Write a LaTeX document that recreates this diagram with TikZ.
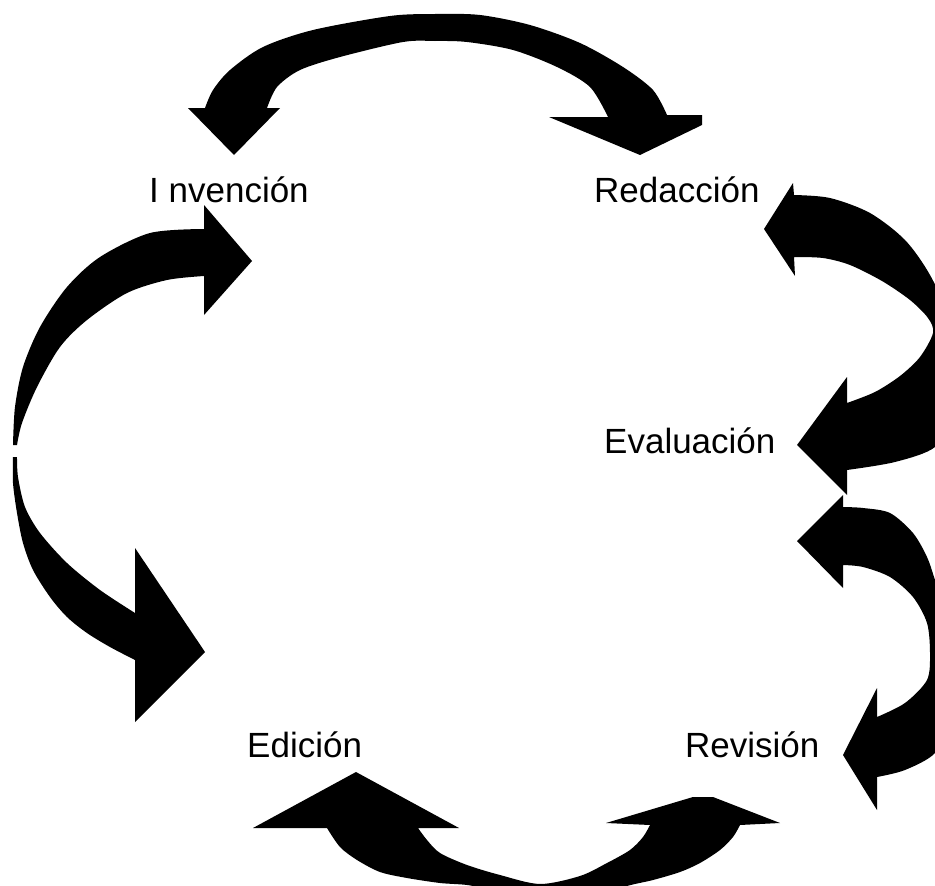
\documentclass[tikz,border=0pt]{standalone}
\usepackage{fontspec}
\setmainfont{Liberation Sans}
\usepackage{tikz}
\newcommand{\picwidth}{935}
\newcommand{\picheight}{886}
\tikzset{
    stage/.style={anchor=base west, inner sep=0pt, font=\fontsize{35}{42}\selectfont},
    bigarrow/.style={fill=black, draw=none}
}
\begin{document}
\begin{tikzpicture}[x=1pt, y=-1pt]
        \useasboundingbox (0,0) rectangle (\picwidth,\picheight);
        \clip (0,0) rectangle (\picwidth,\picheight);

        \path
            (149,202) node[stage] (inv) {I nvención}
            (594,202) node[stage] (red) {Redacción}
            (604,453) node[stage] (eva) {Evaluación}
            (685,757) node[stage] (rev) {Revisión}
            (247,757) node[stage] (edi) {Edición};

        % invencion <-> redaccion
        \fill[bigarrow] (188,108) -- (205,108)
            -- plot[smooth] coordinates {(205,108) (213,90) (230,70) (263,47) (313,30) (390,16) (435,14) (480,15) (530,25) (580,43) (623,67) (653,90) (667,115)}
            -- (702,115) -- (702,125) -- (640,155) -- (549,117) -- (608,117)
            -- plot[smooth] coordinates {(608,117) (590,87) (557,67) (513,50) (467,42) (435,41) (403,42) (340,57) (300,70) (277,87) (267,108)}
            -- (280,108) -- (234,155) -- cycle;

        % redaccion <-> evaluacion
        \fill[bigarrow] (764,229) -- (793,183) -- (794,195)
            -- plot[smooth] coordinates {(794,195) (830,198) (870,213) (905,240) (930,275) (950,320) (958,370) (950,415) (935,447) (895,462) (847,470)}
            -- (847,495) -- (797,445) -- (847,377) -- (847,403)
            -- plot[smooth] coordinates {(847,403) (875,392) (900,376) (920,357) (933,333) (928,318) (910,300) (882,281) (850,265) (823,258) (794,257)}
            -- (795,276) -- cycle;

        % evaluacion <-> revision
        \fill[bigarrow] (797,541) -- (843,495) -- (843,507)
            -- plot[smooth] coordinates {(843,507) (863,508) (890,513) (913,533) (927,557) (935,580) (948,620) (955,670) (950,720) (935,753) (905,770) (877,777)}
            -- (877,810) -- (843,755) -- (877,688) -- (877,717)
            -- plot[smooth] coordinates {(877,717) (905,703) (927,680) (930,653) (927,623) (913,597) (890,577) (863,567) (843,565)}
            -- (843,588) -- cycle;

        % revision <-> edicion
        \fill[bigarrow] (253,828) -- (356,772) -- (459,828) -- (418,828)
            -- plot[smooth] coordinates {(418,828) (427,840) (440,853) (467,865) (500,875) (540,884) (580,876) (607,863) (630,850) (643,837) (650,825)}
            -- (606,823) -- (693,797) -- (713,797) -- (780,823) -- (740,825)
            -- plot[smooth] coordinates {(740,825) (733,837) (720,850) (700,863) (680,872) (653,880) (627,886) (580,900) (540,905) (500,898) (473,886) (440,883) (407,878) (380,872) (357,860) (340,847) (327,828)}
            -- cycle;

        % edicion <-> invencion
        \fill[bigarrow] (13,445)
            -- plot[smooth] coordinates {(13,445) (15,407) (23,367) (40,327) (67,287) (100,257) (150,233) (204,229)}
            -- (204,205) -- (252,261) -- (204,315) -- (204,276)
            -- plot[smooth] coordinates {(204,276) (167,280) (127,293) (87,320) (60,347) (37,387) (22,423) (17,445)}
            -- cycle;
        \fill[bigarrow] (13,457)
            -- plot[smooth] coordinates {(13,457) (13,483) (17,513) (23,543) (33,570) (50,597) (67,617) (87,633) (110,647) (135,660)}
            -- (135,722) -- (205,652) -- (135,548) -- (135,613)
            -- plot[smooth] coordinates {(135,613) (100,590) (67,563) (40,533) (25,507) (18,477) (17,457)}
            -- cycle;
    \end{tikzpicture}
\end{document}
